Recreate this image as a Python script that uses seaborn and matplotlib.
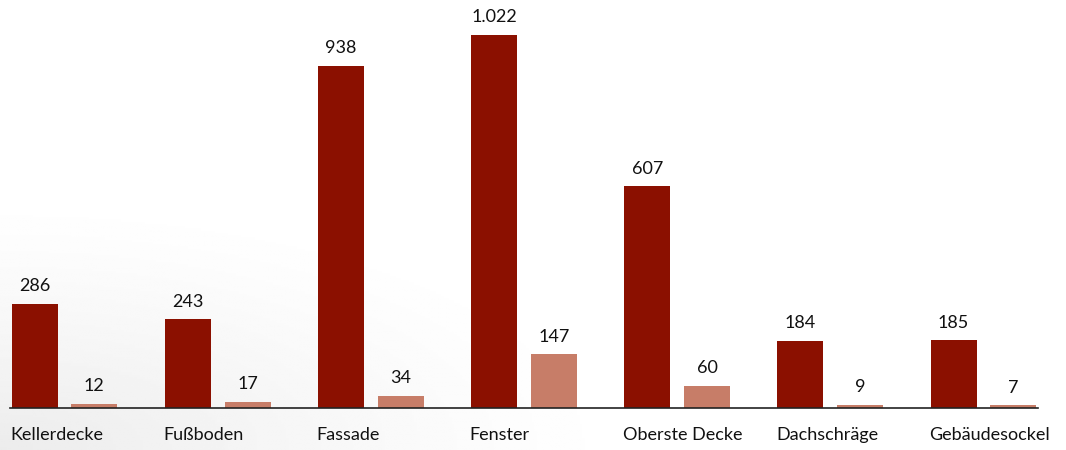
import matplotlib
matplotlib.use("Agg")
import matplotlib.pyplot as plt
import matplotlib.transforms as mtransforms
import numpy as np
import pandas as pd
import seaborn as sns

# Building components and the two measured series
categories = ["Kellerdecke", "Fußboden", "Fassade", "Fenster",
              "Oberste Decke", "Dachschräge", "Gebäudesockel"]
series_a = [286, 243, 938, 1022, 607, 184, 185]
series_b = [12, 17, 34, 147, 60, 9, 7]
series_names = ["A", "B"]
colors = ["#8B1000", "#C77D68"]

df = pd.DataFrame({
    "Bauteil": categories * 2,
    "Serie": [series_names[0]] * len(categories) + [series_names[1]] * len(categories),
    "Wert": series_a + series_b,
})

sns.set_theme(style="white")
plt.rcParams["font.family"] = ["Lato", "DejaVu Sans"]

fig = plt.figure(figsize=(10.66, 4.5), dpi=100)

# Soft grey shading rising from the lower-left corner of the canvas
bg = fig.add_axes([0, 0, 1, 1], zorder=-10)
xx, yy = np.meshgrid(np.linspace(0, 1066, 400), np.linspace(0, 450, 200))
dist = np.sqrt((xx / 650.0) ** 2 + (yy / 260.0) ** 2)
shade = 1.0 - 0.075 * np.clip(1.0 - dist, 0, 1) ** 1.3
bg.imshow(shade, cmap="gray", vmin=0, vmax=1, origin="lower",
          extent=[0, 1, 0, 1], aspect="auto", interpolation="bilinear")
bg.set_axis_off()

ax = fig.add_axes([0, 42 / 450, 1, 408 / 450])

sns.barplot(data=df, x="Bauteil", y="Wert", hue="Serie", order=categories,
            hue_order=series_names, palette=colors, width=0.78, gap=0.23,
            linewidth=0, saturation=1, legend=False, ax=ax)

ax.set_xlim(-0.421, 6.539)
ax.set_ylim(0, 1118)
ax.set_xlabel("")
ax.set_ylabel("")
ax.set_yticks([])
ax.set_xticks([])
for side in ["top", "left", "right"]:
    ax.spines[side].set_visible(False)
ax.spines["bottom"].set_color("#222222")
ax.spines["bottom"].set_linewidth(1.2)
ax.spines["bottom"].set_bounds(-0.356, 6.356)
ax.patch.set_alpha(0)


def de_format(v):
    return f"{v:,}".replace(",", ".")


for container in ax.containers:
    vals = [int(round(b.get_height())) for b in container]
    ax.bar_label(container, labels=[de_format(v) for v in vals],
                 padding=7, fontsize=13, color="#111111")

# Category labels left-aligned under each bar group
trans = mtransforms.blended_transform_factory(ax.transData, ax.transAxes)
for i, name in enumerate(categories):
    ax.text(i - 0.355, -0.065, name, transform=trans, ha="left", va="center",
            fontsize=13, color="#111111")

fig.savefig("out.png", dpi=100)
